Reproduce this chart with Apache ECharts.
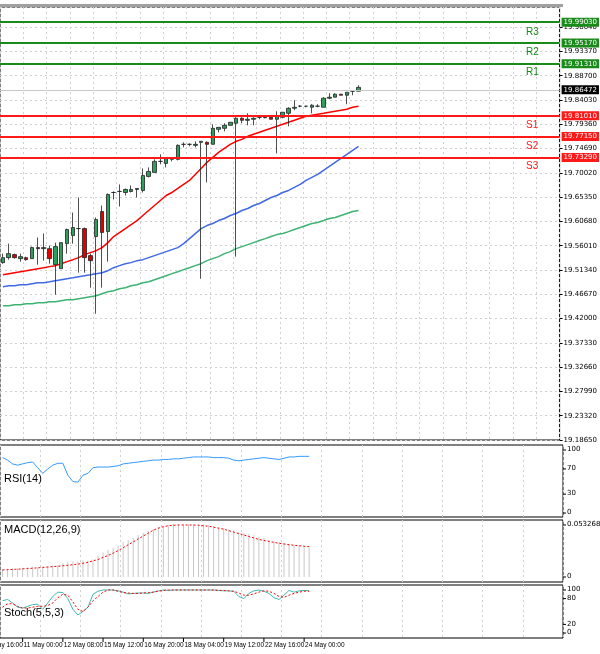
<!DOCTYPE html>
<html><head><meta charset="utf-8">
<script src="https://cdn.jsdelivr.net/npm/echarts@6/dist/echarts.min.js"></script>
<style>html,body{margin:0;padding:0;background:#fff}#c{width:600px;height:654px}</style>
</head><body><div id="c"></div>
<script>
// OHLC [open, close, low, high]
const candles = [
[19.5276,19.5372,19.5256,19.5449],[19.5372,19.5449,19.5333,19.5642],[19.5430,19.5372,19.5353,19.5449],[19.5353,19.5391,19.5295,19.5449],
[19.5372,19.5333,19.5314,19.5391],[19.5353,19.5565,19.5353,19.5584],[19.5565,19.5545,19.5237,19.5758],[19.5545,19.5565,19.5314,19.5835],
[19.5545,19.5353,19.5256,19.5603],[19.5237,19.5584,19.4659,19.5661],[19.5160,19.5661,19.5160,19.5661],[19.5642,19.5912,19.5449,19.5931],
[19.5796,19.5950,19.5642,19.6239],[19.5931,19.5931,19.5083,19.6529],[19.5931,19.5372,19.5083,19.5950],[19.5411,19.5314,19.4794,19.5449],
[19.5777,19.6105,19.4293,19.6143],[19.6259,19.5854,19.4794,19.6375],[19.5873,19.6587,19.5295,19.6606],[19.6625,19.6625,19.6491,19.6645],
[19.6645,19.6645,19.6355,19.6780],[19.6625,19.6683,19.6567,19.6702],[19.6645,19.6683,19.6625,19.6760],[19.6683,19.6702,19.6529,19.6702],
[19.6664,19.6953,19.6625,19.7088],[19.6934,19.7030,19.6915,19.7107],[19.7011,19.7223,19.7011,19.7262],[19.7223,19.7223,19.7165,19.7358],
[19.7184,19.7281,19.7107,19.7281],[19.7262,19.7281,19.7223,19.7300],[19.7262,19.7531,19.7242,19.7551],[19.7551,19.7551,19.7493,19.7589],
[19.7551,19.7551,19.7512,19.7570],[19.7531,19.7551,19.7493,19.7609],[19.7589,19.7609,19.4967,19.7609],[19.7589,19.7551,19.6818,19.7609],
[19.7551,19.7859,19.7551,19.7936],[19.7840,19.7878,19.7782,19.7878],[19.7859,19.7917,19.7801,19.7956],[19.7917,19.7975,19.7917,19.7975],
[19.7956,19.8052,19.5391,19.8071],[19.8052,19.8013,19.7956,19.8071],[19.8013,19.8033,19.7917,19.8148],[19.8033,19.8052,19.7917,19.8071],
[19.8071,19.8071,19.8033,19.8071],[19.8062,19.8071,19.8052,19.8071],[19.8071,19.8033,19.8033,19.8091],[19.8033,19.8091,19.7377,19.8187],
[19.8071,19.8168,19.8052,19.8168],[19.8148,19.8245,19.7898,19.8264],[19.8245,19.8264,19.8206,19.8399],[19.8284,19.8284,19.8264,19.8303],
[19.8284,19.8284,19.8264,19.8284],[19.8264,19.8303,19.8148,19.8322],[19.8284,19.8284,19.8264,19.8322],[19.8264,19.8438,19.8264,19.8457],
[19.8438,19.8457,19.8418,19.8534],[19.8457,19.8515,19.8457,19.8534],[19.8515,19.8495,19.8495,19.8515],[19.8495,19.8553,19.8322,19.8553],
[19.8573,19.8573,19.8495,19.8573],[19.8573,19.8647,19.8573,19.8688]
];
const maRed = [19.5044,19.5064,19.5083,19.5102,19.5121,19.5141,19.5160,19.5179,19.5199,19.5218,19.5256,19.5295,19.5333,19.5372,19.5430,19.5468,19.5507,19.5565,19.5661,19.5777,19.5854,19.5931,19.6008,19.6085,19.6182,19.6279,19.6375,19.6471,19.6567,19.6625,19.6702,19.6780,19.6857,19.6972,19.7088,19.7204,19.7300,19.7396,19.7474,19.7551,19.7609,19.7647,19.7705,19.7744,19.7782,19.7821,19.7859,19.7898,19.7936,19.7975,19.8013,19.8052,19.8091,19.8110,19.8129,19.8148,19.8168,19.8187,19.8206,19.8225,19.8264,19.8284];
const maBlue = [19.4813,19.4832,19.4832,19.4851,19.4851,19.4871,19.4890,19.4890,19.4909,19.4929,19.4948,19.4967,19.4986,19.5006,19.5025,19.5044,19.5064,19.5083,19.5121,19.5179,19.5218,19.5256,19.5276,19.5314,19.5333,19.5372,19.5411,19.5449,19.5488,19.5526,19.5565,19.5642,19.5738,19.5835,19.5931,19.5989,19.6028,19.6085,19.6124,19.6182,19.6221,19.6279,19.6317,19.6375,19.6413,19.6471,19.6529,19.6567,19.6625,19.6664,19.6722,19.6780,19.6857,19.6915,19.6972,19.7049,19.7127,19.7204,19.7281,19.7358,19.7435,19.7512];
const maGreen = [19.4447,19.4447,19.4466,19.4466,19.4485,19.4485,19.4505,19.4505,19.4524,19.4524,19.4543,19.4562,19.4562,19.4582,19.4601,19.4620,19.4639,19.4678,19.4717,19.4736,19.4774,19.4794,19.4832,19.4851,19.4890,19.4909,19.4948,19.4986,19.5025,19.5064,19.5102,19.5141,19.5179,19.5218,19.5256,19.5314,19.5353,19.5391,19.5449,19.5488,19.5545,19.5584,19.5622,19.5661,19.5700,19.5738,19.5777,19.5815,19.5835,19.5873,19.5912,19.5950,19.5989,19.6028,19.6047,19.6085,19.6124,19.6143,19.6182,19.6221,19.6259,19.6279];
const resistance = [{name:'R3',value:19.99030},{name:'R2',value:19.95170},{name:'R1',value:19.91310}];
const support = [{name:'S1',value:19.81010},{name:'S2',value:19.77150},{name:'S3',value:19.73290}];
const lastPrice = 19.86472;
const rsi = [88,84,78,76,78,80,81,72,63,70,76,79,79,60,50,49,60,63,72,73,73,73,74,75,78,79,80,81,82,83,84,84,85,85,86,86,87,88,89,89,89,89,88,88,88,87,84,83,84,85,86,87,88,87,86,85,87,89,89,90,90,90];
const macdHist = [8.2,8.5,8.8,9,9.5,10,10.5,10,10.5,11,11.5,12,14,15,16,16,17,17,18,22,25,28,30,32,36,38,40,43,45,47,49,51,52,53,54,54,54,54,54,54,54,53,52,51,50,49,48,46,45,44,43,41,40,38,37,36,35,34,33,32,31,30].map(v=>v/1000);
const macdSignal = [7.2,7.5,7.8,8,8.3,8.7,9,9.4,9.8,10.2,10.6,11,11.5,12,12.6,13.2,14,15,16.5,18,20,22,24.5,27,30,33,36,39,42,45,48,50,51.5,52.5,53,53.3,53.3,53.3,53.2,53,52.5,52,51,50,49,47.5,46,44.5,43,41.5,40,38.5,37.5,36.5,35.5,34.5,33.8,33,32.5,32,31.5,31].map(v=>v/1000);
const stochMain = [75,78,70,60,58,62,66,67,55,70,85,95,94,80,55,42,50,60,90,97,100,100,100,98,95,91,92,93,93,92,95,98,100,99,100,100,100,100,100,100,100,100,100,99,98,98,97,85,80,92,98,100,97,92,82,78,88,99,95,98,99,98];
const stochSignal = [60,68,68,62,58,58,60,62,62,64,70,82,90,88,72,55,50,60,75,85,95,100,100,97,94,93,92,92,93,94,95,97,99,100,100,100,100,100,100,100,100,100,100,99,99,98,97,93,88,88,91,95,98,97,92,85,83,88,92,95,97,97];
const rsiTicks = [100,70,30,0];
const macdTicks = [0.053268,0];
const stochTicks = [100,80,20,0];
const dateLabels = ['10 May 16:00','11 May 00:00','12 May 08:00','15 May 12:00','16 May 20:00','18 May 04:00','19 May 12:00','22 May 16:00','24 May 00:00'];
const dateIdx = [-4,4,12,20,28,36,44,52,60];

const MAIN_SLOTS = 96, SUB_SLOTS = 112;
const mainCats = Array.from({length:MAIN_SLOTS},(_,i)=>i);
const subCats = Array.from({length:SUB_SLOTS},(_,i)=>i);
const FONT = 'DejaVu Sans';
const chart = echarts.init(document.getElementById('c'));
const L = 0, R = 37;
const grids = [
 {left:L,right:R,top:7,bottom:214},
 {left:L,right:R,top:445,bottom:137},
 {left:L,right:R,top:520,bottom:72},
 {left:L,right:R,top:585,bottom:16}
].map(g=>Object.assign(g,{show:true,borderColor:'#000',borderWidth:1,backgroundColor:'#fff'}));
const dash = {lineStyle:{type:[2,3],color:'#d0d0d0',width:1}};
const xAxes = [
 {gridIndex:0,type:'category',data:mainCats,axisLine:{show:false},axisTick:{show:false},axisLabel:{show:false},splitLine:Object.assign({show:true,interval:3},dash)},
 {gridIndex:1,type:'category',data:subCats,axisLine:{show:false},axisTick:{show:false},axisLabel:{show:false},splitLine:Object.assign({show:true,interval:7},dash)},
 {gridIndex:2,type:'category',data:subCats,axisLine:{show:false},axisTick:{show:false},axisLabel:{show:false},splitLine:Object.assign({show:true,interval:7},dash)},
 {gridIndex:3,type:'category',data:subCats,axisLine:{show:false},axisTick:{show:false},axisLabel:{show:false},splitLine:Object.assign({show:true,interval:7},dash)}
];
const yAxes = [
 {gridIndex:0,type:'value',position:'right',min:19.1865,max:20.0192,interval:0.0467,
  axisLine:{show:false},axisTick:{show:true,length:3,lineStyle:{color:'#000'}},
  axisLabel:{fontSize:7,color:'#000',fontFamily:FONT,margin:4,showMaxLabel:false,formatter:v=>v.toFixed(5)},
  splitLine:dash},
 {gridIndex:1,type:'value',min:-6.3,max:108,axisLine:{show:false},axisTick:{show:false},axisLabel:{show:false},splitLine:{show:false}},
 {gridIndex:2,type:'value',min:-0.00512,max:0.05839,axisLine:{show:false},axisTick:{show:false},axisLabel:{show:false},splitLine:{show:false}},
 {gridIndex:3,type:'value',min:-11.6,max:111.6,axisLine:{show:false},axisTick:{show:false},axisLabel:{show:false},splitLine:{show:false}}
];
function levelLines(arr,color){
  return arr.map(d=>({yAxis:d.value,name:d.name,lineStyle:{color:color,width:2,type:'solid'},
    label:{show:true,position:'end',formatter:d.value.toFixed(5),backgroundColor:color,color:'#fff',fontSize:7,fontFamily:FONT,padding:[1,2],distance:2}}));
}
const series = [
 {type:'line',xAxisIndex:0,yAxisIndex:0,data:maGreen,symbol:'none',lineStyle:{color:'#3cb371',width:1.5},z:2},
 {type:'line',xAxisIndex:0,yAxisIndex:0,data:maBlue,symbol:'none',lineStyle:{color:'#4169e1',width:1.5},z:2},
 {type:'line',xAxisIndex:0,yAxisIndex:0,data:maRed,symbol:'none',lineStyle:{color:'#ff0000',width:1.5},z:2},
 {type:'candlestick',xAxisIndex:0,yAxisIndex:0,data:candles,barWidth:4,z:3,
  itemStyle:{color:'#2e9e5b',color0:'#e00000',borderColor:'#222',borderColor0:'#222',borderWidth:0.8},
  markLine:{symbol:'none',silent:true,animation:false,data:[
    ...levelLines(resistance,'#1a8a1a'),...levelLines(support,'#ff1a1a'),
    {yAxis:lastPrice,lineStyle:{color:'#c8c8c8',width:1,type:'solid'},label:{show:true,position:'end',formatter:lastPrice.toFixed(5),backgroundColor:'#000',color:'#fff',fontSize:7,fontFamily:FONT,padding:[1,2],distance:2}}
  ]}},
 {type:'line',xAxisIndex:1,yAxisIndex:1,data:rsi,symbol:'none',lineStyle:{color:'#3399ff',width:1}},
 {type:'bar',xAxisIndex:2,yAxisIndex:2,data:macdHist,barWidth:1,itemStyle:{color:'#c8c8c8'}},
 {type:'line',xAxisIndex:2,yAxisIndex:2,data:macdSignal,symbol:'none',lineStyle:{color:'#ff0000',width:1,type:[2,2]}},
 {type:'line',xAxisIndex:3,yAxisIndex:3,data:stochMain,symbol:'none',lineStyle:{color:'#44b8b0',width:1}},
 {type:'line',xAxisIndex:3,yAxisIndex:3,data:stochSignal,symbol:'none',lineStyle:{color:'#ff0000',width:1,type:[2,2]}}
];
chart.setOption({animation:false,grid:grids,xAxis:xAxes,yAxis:yAxes,series:series});

const W = 600 - L - R;
const g = [];
function subTicks(ax,ticks,fmt){
  ticks.forEach(v=>{
    const y = chart.convertToPixel({yAxisIndex:ax},v);
    g.push({type:'text',x:W+4,y:y-4,style:{text:fmt(v),fontSize:7,fontFamily:FONT,fill:'#000'}});
    g.push({type:'line',shape:{x1:W,y1:y,x2:W+3,y2:y},style:{stroke:'#000'}});
    if(v!==ticks[0] && v!==ticks[ticks.length-1]) g.push({type:'line',shape:{x1:0,y1:y,x2:W,y2:y},style:{stroke:'#d0d0d0',lineDash:[2,3]},z:-1});
  });
}
subTicks(1,rsiTicks,v=>String(v));
subTicks(2,macdTicks,v=>v===0?'0':v.toFixed(6));
subTicks(3,stochTicks,v=>String(v));
[[resistance,'#1a8a1a'],[support,'#ff1a1a']].forEach(([arr,col])=>{
  arr.forEach(d=>{
    const y = chart.convertToPixel({yAxisIndex:0},d.value);
    g.push({type:'text',x:526,y:y+5,style:{text:d.name,fontSize:10,fontFamily:'Liberation Sans',fill:col}});
  });
});
const slot = W/SUB_SLOTS;
dateLabels.forEach((t,i)=>{
  const x = L + (dateIdx[i]+0.5)*slot;
  g.push({type:'line',shape:{x1:x,y1:638,x2:x,y2:642},style:{stroke:'#000'}});
  g.push({type:'text',x:x+1,y:642,style:{text:t,fontSize:6.5,fontFamily:'Liberation Sans',fill:'#000'}});
});
[['RSI(14)',473],['MACD(12,26,9)',524],['Stoch(5,5,3)',607]].forEach(([t,y])=>{
  g.push({type:'text',x:4,y:y,style:{text:t,fontSize:11,fontFamily:'Liberation Sans',fill:'#000'}});
});
g.push({type:'rect',shape:{x:0,y:4,width:W,height:3},style:{fill:'#a0a0a0'}});
chart.setOption({graphic:g});
</script></body></html>
